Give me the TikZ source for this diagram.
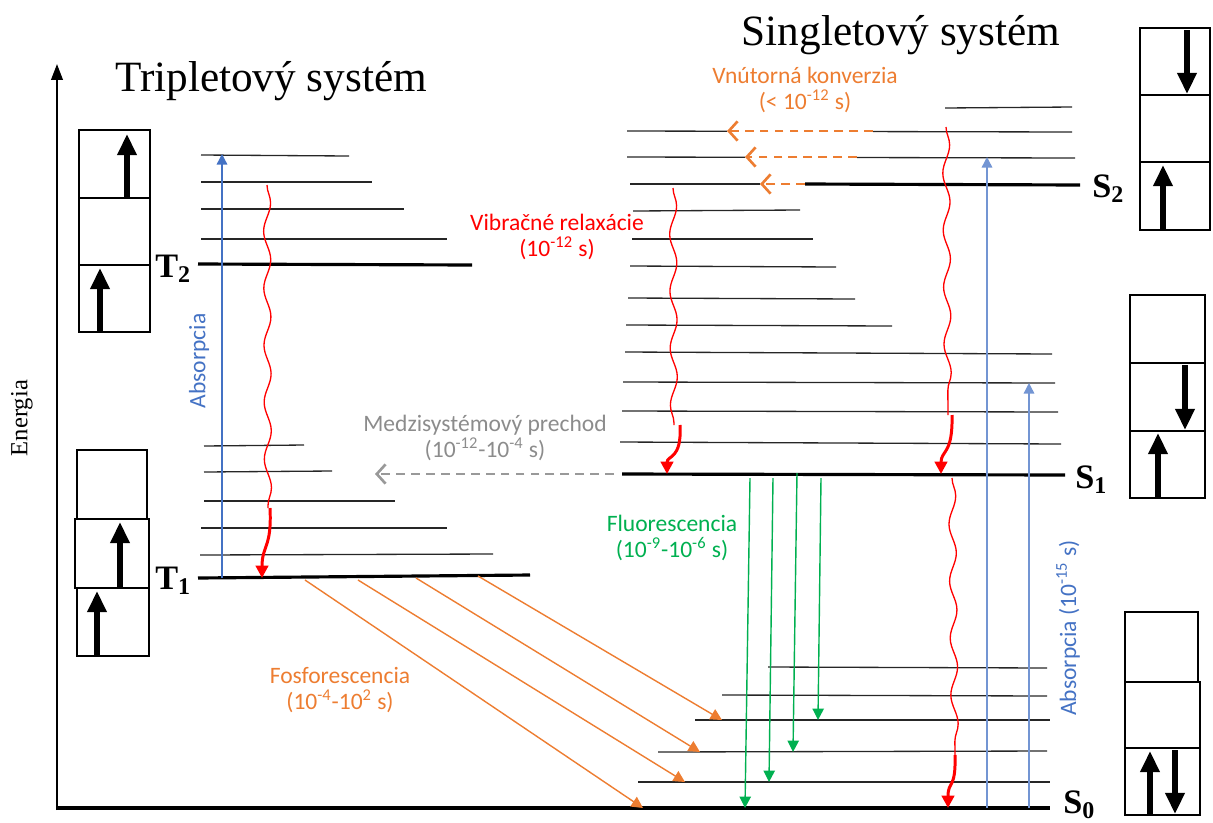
\documentclass[tikz,border=0pt]{standalone}
\usepackage{fontspec}
\setmainfont{Liberation Serif}
\newfontfamily\calib{Carlito}
\usetikzlibrary{arrows.meta,decorations.pathmorphing}
\definecolor{cblue}{HTML}{4472C4}
\definecolor{corange}{HTML}{ED7D31}
\definecolor{cgreen}{HTML}{00B050}
\definecolor{cred}{HTML}{FF0000}
\definecolor{cgray}{HTML}{7F7F7F}
\tikzset{
  lvl/.style={line width=0.75pt, draw=black!85},
  mainlvl/.style={line width=1.8pt, draw=black},
  boxline/.style={draw=black, line width=0.8pt},
  spinarrow/.style={line width=3.6pt, -{Triangle[length=12pt,width=10.5pt]}},
  wavy/.style={draw=cred, line width=0.75pt, decorate, decoration={snake, segment length=1.14cm, amplitude=2pt}},
  relax/.style={draw=cred, line width=1.7pt, -{Triangle[length=7pt,width=7pt]}},
  absorb/.style={draw=cblue, line width=0.8pt, -{Triangle[length=6pt,width=6pt]}},
  fluo/.style={draw=cgreen, line width=0.8pt, -{Triangle[length=6.5pt,width=6.5pt]}},
  phos/.style={draw=corange, line width=0.8pt, -{Triangle[length=6.5pt,width=6.5pt]}},
  convers/.style={draw=corange, line width=1.5pt, dash pattern=on 5pt off 3.5pt, -{Straight Barb[length=5pt,width=11pt]}, preaction={draw=white, line width=3pt, solid, -}},
  iscarrow/.style={draw=cgray!80, line width=1.5pt, dash pattern=on 5pt off 3.5pt, -{Straight Barb[length=5pt,width=11pt]}},
  lbl/.style={font=\calib\fontsize{13.4}{15}\selectfont, align=center, inner sep=0pt},
  statelbl/.style={font=\bfseries\fontsize{19.5}{20}\selectfont, anchor=base west, inner sep=0pt},
  titlelbl/.style={font=\fontsize{24.6}{27}\selectfont, anchor=base, inner sep=0pt},
}
\begin{document}
\begin{tikzpicture}[x=0.02cm,y=-0.02cm]
\useasboundingbox (0,0) rectangle (1213,822);

% titles
\node[titlelbl] (tt) at (271,91) {Tripletový systém};
\node[titlelbl] (st) at (901,45) {Singletový systém};

% energy axis
\coordinate (origin) at (57,808);
\coordinate (axtop) at (57,64);
\draw[line width=1.3pt, -{Triangle[length=9pt,width=6.5pt]}] (57,810) -- (axtop);
\node[rotate=90, font=\fontsize{14}{16}\selectfont, inner sep=0pt] (en) at (22,418) {Energia};

% ---------------- triplet levels ----------------
\draw[lvl] (201,155) -- (349,156);
\draw[lvl] (201,182) -- (372,182);
\draw[lvl] (201,209) -- (404,209);
\draw[lvl] (201,239) -- (447,239);
\draw[mainlvl] (198,264) -- (472,265);
\draw[lvl] (204,446) -- (304,445);
\draw[lvl] (204,472) -- (332,471);
\draw[lvl] (204,501) -- (395,501);
\draw[lvl] (201,528) -- (447,528);
\draw[lvl] (200,555) -- (493,554);
\draw[mainlvl] (198,578) -- (530,575);

\node[statelbl] (T2) at (155,277) {T\textsubscript{2}};
\node[statelbl] (T1) at (155,589) {T\textsubscript{1}};

% ---------------- singlet levels ----------------
\draw[lvl] (945,108) -- (1072,107);
\draw[lvl] (627,131) -- (1072,132);
\draw[lvl] (627,157) -- (1075,158);
\draw[lvl] (630,184) -- (805,184);
\draw[mainlvl] (805,184) -- (1080,185);
\draw[lvl] (633,211) -- (800,210);
\draw[lvl] (632,239) -- (813,239);
\draw[lvl] (630,266) -- (836,267);
\draw[lvl] (628,298) -- (855,299);
\draw[lvl] (626,325) -- (892,326);
\draw[lvl] (625,352) -- (1052,354);
\draw[lvl] (623,382) -- (1055,383);
\draw[lvl] (622,411) -- (1058,412);
\draw[lvl] (620,442) -- (1061,444);
\draw[mainlvl] (622,474) -- (1065,475);

\draw[lvl] (768,667) -- (1047,668);
\draw[lvl] (722,695) -- (1047,696);
\draw[lvl] (695,720) -- (1050,720);
\draw[lvl] (658,752) -- (1047,751);
\draw[lvl] (638,782) -- (1050,782);
\draw[line width=2pt] (origin) -- (1050,808);

\node[statelbl] (S2) at (1092,197) {S\textsubscript{2}};
\node[statelbl] (S1) at (1075,488) {S\textsubscript{1}};
\node[statelbl] (S0) at (1063,813) {S\textsubscript{0}};

% ---------------- absorption ----------------
\coordinate (abT1) at (222,578);
\coordinate (abT3) at (222,154);
\draw[absorb] (abT1) -- (abT3);
\node[lbl, rotate=90, text=cblue] (abtl) at (199,361) {Absorpcia};

\coordinate (abS0a) at (987,808);
\coordinate (abS2) at (987,157);
\draw[absorb, draw=cblue!75] (abS0a) -- (abS2);
\coordinate (abS0b) at (1029,808);
\coordinate (abS1) at (1029,383);
\draw[absorb, draw=cblue!75] (abS0b) -- (abS1);
\node[lbl, rotate=90, text=cblue] (absl) at (1068,628) {Absorpcia (10\textsuperscript{-15} s)};

% ---------------- vibrational relaxation ----------------
\draw[wavy] (267,185) -- (268,508);
\coordinate (vrT) at (262,578);
\draw[relax] (270,508) .. controls (272,548) and (262,545) .. (vrT);

\draw[wavy] (673,188) -- (674,425);
\coordinate (vrS1a) at (667,474);
\draw[relax] (680,425) .. controls (682,460) and (667,455) .. (vrS1a);

\draw[wavy] (946,127) -- (948,415);
\coordinate (vrS1b) at (941,474);
\draw[relax] (952,415) .. controls (953,455) and (941,450) .. (vrS1b);

\draw[wavy] (952,478) -- (955,755);
\coordinate (vrS0) at (948,808);
\draw[relax] (955,755) .. controls (956,790) and (948,780) .. (vrS0);

\node[lbl, text=cred] (vrl) at (557,237) {Vibračné relaxácie\\(10\textsuperscript{-12} s)};

% ---------------- internal conversion ----------------
\coordinate (icA1) at (873,131); \coordinate (icA2) at (727,131);
\coordinate (icB1) at (857,157); \coordinate (icB2) at (745,157);
\coordinate (icC1) at (805,184); \coordinate (icC2) at (760,184);
\draw[convers] (icA1) -- (icA2);
\draw[convers] (icB1) -- (icB2);
\draw[convers] (icC1) -- (icC2);
\node[lbl, text=corange] (icl) at (805,90) {Vnútorná konverzia\\(< 10\textsuperscript{-12} s)};

% ---------------- intersystem crossing ----------------
\coordinate (iscA) at (614,474);
\coordinate (iscB) at (375,474);
\draw[iscarrow] (iscA) -- (iscB);
\node[lbl, text=cgray!90] (iscl) at (485,438) {Medzisystémový prechod\\(10\textsuperscript{-12}-10\textsuperscript{-4} s)};

% ---------------- fluorescence ----------------
\coordinate (fa1) at (750,478); \coordinate (fa2) at (745,808);
\coordinate (fb1) at (773,478); \coordinate (fb2) at (769,782);
\coordinate (fc1) at (797,473); \coordinate (fc2) at (793,752);
\coordinate (fd1) at (821,478); \coordinate (fd2) at (818,720);
\draw[fluo] (fa1) -- (fa2);
\draw[fluo] (fb1) -- (fb2);
\draw[fluo] (fc1) -- (fc2);
\draw[fluo] (fd1) -- (fd2);
\node[lbl, text=cgreen] (fll) at (672,538) {Fluorescencia\\(10\textsuperscript{-9}-10\textsuperscript{-6} s)};

% ---------------- phosphorescence ----------------
\coordinate (pa1) at (305,580); \coordinate (pa2) at (643,808);
\coordinate (pb1) at (358,580); \coordinate (pb2) at (685,782);
\coordinate (pc1) at (416,578); \coordinate (pc2) at (700,752);
\coordinate (pd1) at (478,576); \coordinate (pd2) at (722,720);
\draw[phos] (pa1) -- (pa2);
\draw[phos] (pb1) -- (pb2);
\draw[phos] (pc1) -- (pc2);
\draw[phos] (pd1) -- (pd2);
\node[lbl, text=corange] (phl) at (340,690) {Fosforescencia\\(10\textsuperscript{-4}-10\textsuperscript{2} s)};

% ---------------- spin boxes ----------------
% T2 box
\draw[boxline] (79,130) rectangle (150,332);
\draw[boxline] (79,198) -- (150,198);
\draw[boxline] (79,265) -- (150,265);
\draw[spinarrow] (127,197) -- (127,134);
\draw[spinarrow] (100,332) -- (100,268);
% T1 box
\draw[boxline] (77,450) rectangle (147,519);
\draw[boxline] (75,519) rectangle (149,588);
\draw[boxline] (77,588) rectangle (149,656);
\draw[spinarrow] (120,588) -- (120,522);
\draw[spinarrow] (97,656) -- (97,591);
% S2 box
\draw[boxline] (1140,28) rectangle (1210,230);
\draw[boxline] (1140,95) -- (1210,95);
\draw[boxline] (1140,162) -- (1210,162);
\draw[spinarrow] (1187,30) -- (1187,94);
\draw[spinarrow] (1163,230) -- (1163,165);
% S1 box
\draw[boxline] (1130,295) rectangle (1205,498);
\draw[boxline] (1130,363) -- (1205,363);
\draw[boxline] (1130,431) -- (1205,431);
\draw[spinarrow] (1185,365) -- (1185,430);
\draw[spinarrow] (1158,498) -- (1158,433);
% S0 box
\draw[boxline] (1125,612) rectangle (1198,682);
\draw[boxline] (1125,682) rectangle (1200,748);
\draw[boxline] (1125,748) rectangle (1200,815);
\draw[spinarrow] (1150,815) -- (1150,751);
\draw[spinarrow] (1175,750) -- (1175,814);
\end{tikzpicture}
\end{document}
